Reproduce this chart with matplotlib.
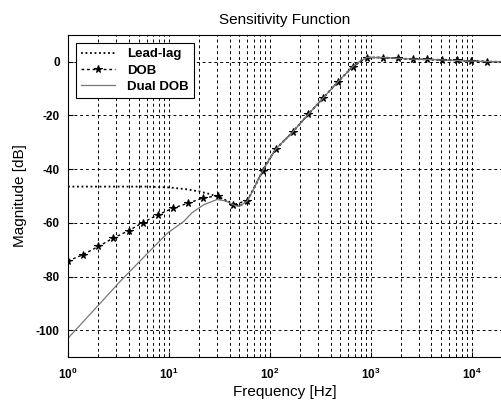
import numpy as np
import matplotlib
matplotlib.use("Agg")
import matplotlib.pyplot as plt
from matplotlib.ticker import LogLocator, NullFormatter

plt.rcParams['font.family'] = ['Liberation Sans', 'DejaVu Sans']
plt.rcParams['axes.unicode_minus'] = False

# values
tail_f = [114, 170, 240, 339, 474, 660, 800, 920, 1310, 1860, 2620, 3630, 5100, 7100, 9800, 14200, 20000]
tail_db = [-32.6, -26.0, -19.6, -13.4, -7.4, -1.9, 0.5, 1.6, 1.6, 1.3, 1.0, 0.9, 0.7, 0.5, 0.3, 0.1, 0.0]

leadlag_f = [1, 3, 6, 10, 15, 20, 25, 30, 38, 45, 50, 60, 70, 85, 100] + tail_f
leadlag_db = [-46.5, -46.5, -46.5, -46.8, -47.5, -48.3, -49.2, -50.2, -51.8, -53.2, -53.8,
              -51.8, -47.0, -40.6, -36.0] + tail_db

dob_f = [1, 1.4, 2.0, 2.8, 4.0, 5.5, 7.8, 11, 15.5, 21.8, 30.4, 42.7, 60, 85,
         114, 170, 240, 339, 474, 660, 920, 1310, 1860, 2620, 3630, 5100, 7100, 9800, 14200, 20000]
dob_db = [-74.2, -71.9, -68.8, -65.7, -62.9, -59.9, -57.0, -54.5, -52.7, -50.7, -50.0, -53.3, -51.7, -40.6,
          -32.6, -26.0, -19.6, -13.4, -7.4, -1.9, 1.6, 1.6, 1.3, 1.0, 0.9, 0.7, 0.5, 0.3, 0.1, 0.0]

dual_f = [1, 2, 3.35, 5, 7, 9.7, 14, 17, 22, 30, 36, 45, 50, 60, 70, 85, 100] + tail_f
dual_db = [-103, -90.7, -81.5, -74.8, -69.2, -63.8, -59.5, -56.2, -53.3, -51.3, -51.8, -53.5, -53.9,
           -51.8, -47.0, -40.6, -36.0] + tail_db

fig = plt.figure(figsize=(5.01, 4.04), dpi=100)
ax = fig.add_axes([0.1357, 0.1163, 0.8663, 0.7971])

ax.semilogx(leadlag_f, leadlag_db, color='black', linestyle=(0, (1, 1.5)), lw=1.3, label='Lead-lag')
ax.semilogx(dob_f, dob_db, color='black', linestyle=(0, (2, 2)), lw=1.0, marker='*',
            ms=5.5, mew=0.8, markevery=slice(0, -1), label='DOB')
ax.semilogx(dual_f, dual_db, color='#777777', linestyle='-', lw=0.9, label='Dual DOB')

ax.set_xlim(1, 2e4)
ax.set_ylim(-110, 10)
ax.set_yticks([0, -20, -40, -60, -80, -100])
ax.xaxis.set_major_locator(LogLocator(base=10, numticks=10))
ax.xaxis.set_minor_locator(LogLocator(base=10, subs=np.arange(2, 10), numticks=20))
ax.xaxis.set_minor_formatter(NullFormatter())

grid_kw = dict(color='black', linestyle=(0, (3, 3)), lw=0.7)
ax.grid(True, which='major', axis='both', **grid_kw)
ax.grid(True, which='minor', axis='x', **grid_kw)
ax.set_axisbelow(True)

ax.tick_params(which='both', direction='in', labelsize=8.5)
ax.tick_params(axis='x', pad=7)
ax.tick_params(axis='y', pad=6)
for lbl in ax.get_xticklabels() + ax.get_yticklabels():
    lbl.set_fontweight('bold')

ax.set_title('Sensitivity Function', fontsize=11, pad=8)
ax.set_xlabel('Frequency [Hz]', fontsize=11, labelpad=2)
ax.set_ylabel('Magnitude [dB]', fontsize=11, labelpad=6)

leg = ax.legend(loc='upper left', prop={'weight': 'bold', 'size': 9.5},
                fancybox=False, edgecolor='black', framealpha=1, handlelength=2.6,
                borderaxespad=0.6, labelspacing=0.3, borderpad=0.4, handletextpad=0.9)
leg.get_frame().set_linewidth(0.8)

fig.savefig('out.png', dpi=100)
